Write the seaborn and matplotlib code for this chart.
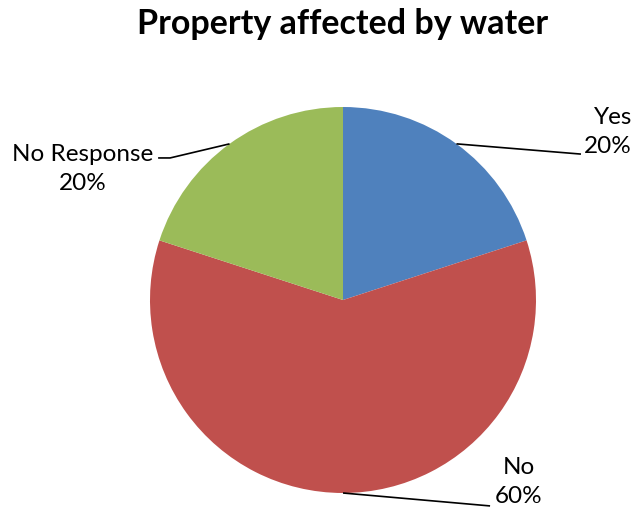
import numpy as np
import matplotlib
matplotlib.use("Agg")
import matplotlib.pyplot as plt
import seaborn as sns

labels = ["Yes", "No", "No Response"]
shares = [20, 60, 20]
colors = ["#4F81BD", "#C0504D", "#9BBB59"]

# where each label block sits (data units, pie radius = 1) and how it is aligned
label_pos = [(1.497, 0.876), (0.912, -0.938), (-1.347, 0.684)]
label_ha = ["right", "center", "center"]
elbow = [(1.233, 0.756), (0.762, -1.067), (-0.896, 0.736)]
elbow_end = [(1.233, 0.756), (0.762, -1.067), (-0.958, 0.736)]

sns.set_theme(style="white")
plt.rcParams['font.family'] = ['Lato', 'DejaVu Sans']

fig = plt.figure(figsize=(6.33, 5.1), dpi=100)
ax = fig.add_axes([0, 0, 1, 1])

wedges, _ = ax.pie(shares, colors=colors, startangle=90, counterclock=False,
                   radius=1, center=(0, 0), wedgeprops=dict(linewidth=0))

ax.set_xlim(-343 / 193, (633 - 343) / 193)
ax.set_ylim(-(510 - 301) / 193, 301 / 193)
ax.set_aspect("equal")
ax.axis("off")

total = sum(shares)
start = 90.0
for i, s in enumerate(shares):
    sweep = 360.0 * s / total
    mid = np.deg2rad(start - sweep / 2)
    start -= sweep
    px, py = np.cos(mid), np.sin(mid)
    ex, ey = elbow[i]
    fx, fy = elbow_end[i]
    ax.plot([px, ex, fx], [py, ey, fy], color="black", linewidth=1.2,
            solid_capstyle="butt")
    tx, ty = label_pos[i]
    ax.text(tx, ty, f"{labels[i]}\n{s}%", ha=label_ha[i], va="center",
            fontsize=17.5, linespacing=1.42, multialignment=label_ha[i],
            color="black")

fig.text(343 / 633, 1 - 24 / 510, "Property affected by water",
         ha="center", va="center", fontsize=24.5, fontweight="bold",
         color="black")

fig.savefig("out.png", dpi=100)
